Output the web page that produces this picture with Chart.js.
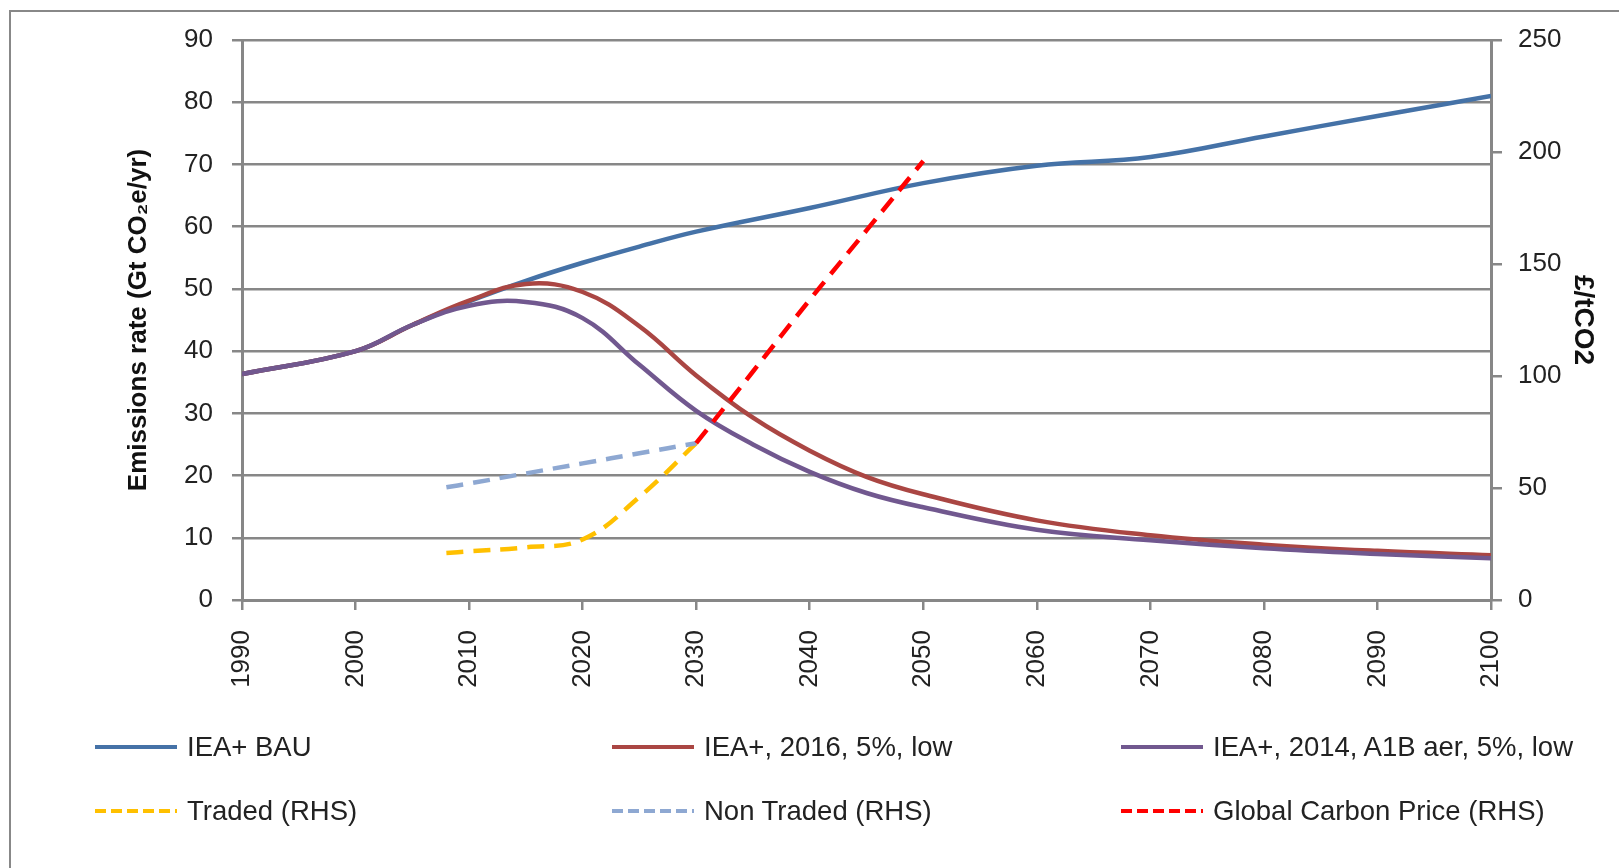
<!DOCTYPE html>
<html>
<head>
<meta charset="utf-8">
<script src="https://cdn.jsdelivr.net/npm/chart.js@4.4.0/dist/chart.umd.min.js"></script>
<style>
  html, body { margin: 0; padding: 0; background: #fff; }
  body { width: 1619px; height: 868px; position: relative; overflow: hidden; font-family: "Liberation Sans", Arial, sans-serif; }
  #frame { position: absolute; left: 9px; top: 10px; width: 1700px; height: 900px; border-left: 2.5px solid #888; border-top: 2.5px solid #888; }
  #chart { position: absolute; left: 0; top: 0; }
  .item { position: absolute; height: 32px; margin-top: -16px; display: flex; align-items: center; font-size: 27.5px; color: #222; white-space: nowrap; }
  .item svg { margin-right: 10px; }
</style>
</head>
<body>
<div id="frame"></div>
<canvas id="chart" width="1619" height="868"></canvas>
<div id="legend"></div>
<script>
// Emissions (LHS, Gt CO2e/yr)
const bauYears = [1990, 2000, 2005, 2010, 2015, 2020, 2025, 2030, 2040, 2050, 2060, 2070, 2080, 2090, 2100];
const bauValues = [36.3, 40, 44.2, 48.0, 51.3, 54.2, 56.8, 59.2, 63.0, 67.0, 69.8, 71.2, 74.5, 77.8, 81.0];

const lowYears = [1990, 2000, 2005, 2010, 2015, 2020, 2025, 2030, 2035, 2040, 2045, 2050, 2060, 2070, 2080, 2090, 2100];
const low2016Values = [36.3, 40, 44.2, 48.1, 50.8, 49.5, 44.0, 36.1, 29.3, 24.0, 19.8, 17.0, 12.8, 10.4, 8.9, 7.9, 7.2];
const low2014Values = [36.3, 40, 44.2, 47.3, 47.9, 45.3, 37.8, 30.4, 25.0, 20.6, 17.2, 14.9, 11.3, 9.6, 8.3, 7.4, 6.7];

// Carbon prices (RHS, £/tCO2)
const tradedYears = [2008, 2010, 2015, 2020, 2025, 2030];
const tradedValues = [21, 21.7, 23.5, 27, 46, 70];

const nonTradedYears = [2008, 2010, 2015, 2020, 2025, 2030];
const nonTradedValues = [50.3, 52, 56.5, 61, 65.5, 70];

const globalYears = [2030, 2035, 2040, 2045, 2050];
const globalValues = [70, 102, 134, 165, 196];

const seriesLabels = ['IEA+ BAU', 'IEA+, 2016, 5%, low', 'IEA+, 2014, A1B aer, 5%, low',
  'Traded (RHS)', 'Non Traded (RHS)', 'Global Carbon Price (RHS)'];

const pts = (xs, ys) => xs.map((x, i) => ({ x: x, y: ys[i] }));

const gridGray = '#878787';
const family = '"Liberation Sans", Arial, sans-serif';
const tickFont = { family: family, size: 26 };
const titleFont = { family: family, size: 26, weight: 'bold' };
const dash = [17, 10];

const datasets = [
  { label: seriesLabels[0], data: pts(bauYears, bauValues), borderColor: '#4572A7', yAxisID: 'y', order: 6 },
  { label: seriesLabels[1], data: pts(lowYears, low2016Values), borderColor: '#AA4643', yAxisID: 'y', order: 5 },
  { label: seriesLabels[2], data: pts(lowYears, low2014Values), borderColor: '#71588F', yAxisID: 'y', order: 4 },
  { label: seriesLabels[3], data: pts(tradedYears, tradedValues), borderColor: '#FFC000', borderDash: dash, yAxisID: 'y1', order: 3 },
  { label: seriesLabels[4], data: pts(nonTradedYears, nonTradedValues), borderColor: '#8EA8D2', borderDash: dash, yAxisID: 'y1', order: 2 },
  { label: seriesLabels[5], data: pts(globalYears, globalValues), borderColor: '#FF0000', borderDash: dash, yAxisID: 'y1', order: 1 }
];
datasets.forEach(d => {
  d.borderWidth = 4.5;
  d.pointRadius = 0;
  d.tension = 0.4;
  d.fill = false;
});

const chart = new Chart(document.getElementById('chart'), {
  type: 'line',
  data: { datasets: datasets },
  options: {
    responsive: false,
    animation: false,
    layout: { padding: { top: 40, left: 0, right: 0, bottom: 168 } },
    plugins: { legend: { display: false }, tooltip: { enabled: false } },
    scales: {
      x: {
        type: 'linear', min: 1990, max: 2100,
        ticks: { stepSize: 10, minRotation: 90, maxRotation: 90, padding: 20, color: '#222', font: tickFont,
          callback: v => String(v) },
        grid: { drawOnChartArea: false, color: gridGray, lineWidth: 2.5, tickLength: 10 },
        border: { color: gridGray, width: 3 },
        afterFit: s => { s.height = 100; }
      },
      y: {
        position: 'left', min: 0, max: 90,
        ticks: { stepSize: 10, padding: 19, color: '#222', font: tickFont },
        grid: { color: gridGray, lineWidth: 2.5, tickLength: 10 },
        border: { color: gridGray, width: 3 },
        title: { display: true, text: 'Emissions rate (Gt CO₂e/yr)', color: '#111', font: titleFont, padding: { top: 123, bottom: 0 } },
        afterFit: s => { s.width = 242; }
      },
      y1: {
        position: 'right', min: 0, max: 250,
        ticks: { stepSize: 50, padding: 16, color: '#222', font: tickFont },
        grid: { drawOnChartArea: false, color: gridGray, lineWidth: 2.5, tickLength: 11 },
        border: { color: gridGray, width: 3 },
        title: { display: true, text: '£/tCO2', color: '#111', font: { family: family, size: 28, weight: 'bold' }, padding: { top: 19, bottom: 0 } },
        afterFit: s => { s.width = 128; }
      }
    }
  }
});

// legend laid out in a 3 x 2 grid like the original
const colX = [95, 612, 1121];
const rowY = [747, 811];
const legend = document.getElementById('legend');
chart.data.datasets.forEach((ds, i) => {
  const item = document.createElement('div');
  item.className = 'item';
  item.style.left = colX[i % 3] + 'px';
  item.style.top = rowY[Math.floor(i / 3)] + 'px';
  const da = ds.borderDash ? ' stroke-dasharray="11 5"' : '';
  item.innerHTML = '<svg width="82" height="8"><line x1="0" y1="4" x2="82" y2="4" stroke="' + ds.borderColor +
    '" stroke-width="4"' + da + '/></svg><span>' + ds.label + '</span>';
  legend.appendChild(item);
});
</script>
</body>
</html>
